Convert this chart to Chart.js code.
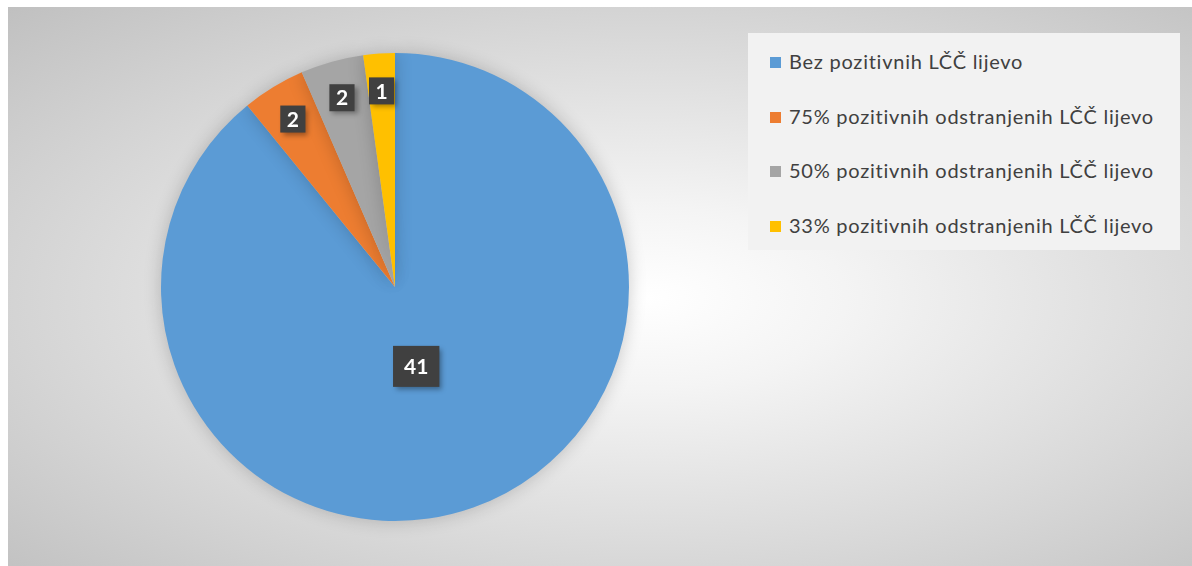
<!DOCTYPE html>
<html>
<head>
<meta charset="utf-8">
<script src="https://cdn.jsdelivr.net/npm/chart.js@4"></script>
<style>
  html, body { margin: 0; padding: 0; background: #fff; }
  #wrap {
    position: absolute; left: 8px; top: 7px; width: 1184px; height: 559px;
    background: radial-gradient(ellipse farthest-corner at 54% 52%, #ffffff 0%, #f4f4f4 22%, #c0c0c0 100%);
  }
  #legend {
    position: absolute; left: 740px; top: 26px; width: 432px; height: 217px;
    background: #f2f2f2; font-family: Lato, sans-serif; font-size: 20px; letter-spacing: 0.75px; color: #404040;
  }
  #legend div { position: absolute; left: 22px; height: 24px; line-height: 24px; white-space: nowrap; }
  #legend span { display: inline-block; width: 11px; height: 11px; margin-right: 8px; vertical-align: 1px; }
</style>
</head>
<body>
<div id="wrap">
  <canvas id="pieChart" width="1184" height="559"></canvas>
  <div id="legend"></div>
</div>
<script>
const labels = ['Bez pozitivnih LČČ lijevo', '75% pozitivnih odstranjenih LČČ lijevo', '50% pozitivnih odstranjenih LČČ lijevo', '33% pozitivnih odstranjenih LČČ lijevo'];
const counts = [41, 2, 2, 1];
const colors = ['#5b9bd5', '#ed7d31', '#a5a5a5', '#ffc000'];

// legend built by hand so it sits like the original
const legendEl = document.getElementById('legend');
labels.forEach((l, i) => {
    const row = document.createElement('div');
    row.style.top = (16 + i * 54.5) + 'px';
    row.innerHTML = '<span style="background:' + colors[i] + '"></span>' + l;
    legendEl.appendChild(row);
});

// dark boxes with the values
const valueBoxes = {
    id: 'valueBoxes',
    afterDatasetsDraw(chart) {
        const ctx = chart.ctx;
        const meta = chart.getDatasetMeta(0);
        ctx.save();
        ctx.font = 'bold 21px Lato, sans-serif';
        ctx.textAlign = 'center';
        ctx.textBaseline = 'middle';
        meta.data.forEach((arc, i) => {
            const p = arc.getProps(['x', 'y', 'startAngle', 'endAngle', 'outerRadius'], true);
            const big = (p.endAngle - p.startAngle) > Math.PI;
            const mid = (p.startAngle + p.endAngle) / 2;
            const r = p.outerRadius * (big ? 0.36 : 0.84);
            const cx = p.x + Math.cos(mid) * r - (big ? 7 : 0);
            const cy = p.y + Math.sin(mid) * r;
            const txt = String(counts[i]);
            const w = ctx.measureText(txt).width + (big ? 22 : 13);
            const h = big ? 41 : 27;
            ctx.shadowColor = 'rgba(0,0,0,0.35)';
            ctx.shadowBlur = 5;
            ctx.shadowOffsetX = 3;
            ctx.shadowOffsetY = 3;
            ctx.fillStyle = '#404040';
            ctx.fillRect(cx - w / 2, cy - h / 2, w, h);
            ctx.shadowColor = 'transparent';
            ctx.fillStyle = '#ffffff';
            ctx.fillText(txt, cx, cy + 1);
        });
        ctx.restore();
    }
};

// soft shadow under the pie
const pieShadow = {
    id: 'pieShadow',
    beforeDatasetsDraw(chart) {
        chart.ctx.save();
        chart.ctx.shadowColor = 'rgba(0,0,0,0.2)';
        chart.ctx.shadowBlur = 18;
    },
    afterDatasetsDraw(chart) {
        chart.ctx.restore();
    }
};

new Chart(document.getElementById('pieChart').getContext('2d'), {
    type: 'pie',
    data: { labels: labels, datasets: [{ data: counts, backgroundColor: colors, borderWidth: 0 }] },
    options: {
        responsive: false,
        animation: false,
        layout: { padding: { left: 153, right: 563, top: 46, bottom: 45 } },
        plugins: { legend: { display: false }, tooltip: { enabled: false } }
    },
    plugins: [pieShadow, valueBoxes]
});
</script>
</body>
</html>
